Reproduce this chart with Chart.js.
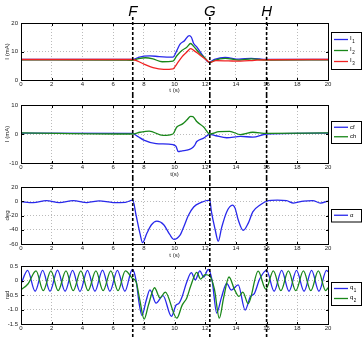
<!DOCTYPE html>
<html>
<head>
<meta charset="utf-8">
<script src="https://cdn.jsdelivr.net/npm/chart.js@4.4.1/dist/chart.umd.min.js"></script>
<style>
  html, body { margin: 0; padding: 0; background: #fff; overflow: hidden; width: 363px; height: 337px; }
  canvas { position: absolute; left: 0; }
</style>
</head>
<body>
<canvas id="c1" width="363" height="95" style="top:0px"></canvas>
<canvas id="c2" width="363" height="83" style="top:95px"></canvas>
<canvas id="c3" width="363" height="81" style="top:178px"></canvas>
<canvas id="c4" width="363" height="86" style="top:259px"></canvas>
<script>
// event markers
const markT = [7.28, 12.3, 16.0];
const markLabel = ['F', 'G', 'H'];

// panel 1: motor currents (mA)
const tI1 = [0, 7.25, 7.6, 8.0, 8.4, 9.0, 9.9, 10.15, 10.35, 10.65, 10.95, 11.1, 11.25, 11.45, 11.85, 12.25, 12.6, 13.3, 14.2, 15.0, 16.0, 20];
const vI1 = [7.2, 7.2, 7.8, 8.4, 8.5, 8.2, 8.0, 10.3, 12.5, 13.8, 15.6, 15.0, 12.8, 11.6, 8.5, 6.3, 7.2, 7.9, 7.3, 7.6, 7.2, 7.2];
const tI2 = [0, 6.5, 7.25, 7.6, 8.1, 8.6, 9.2, 9.9, 10.15, 10.5, 10.8, 11.05, 11.25, 11.6, 12.0, 12.3, 12.6, 13.3, 14.2, 15.0, 16.0, 20];
const vI2 = [7.1, 7.0, 6.9, 7.4, 7.8, 7.4, 6.4, 6.6, 8.5, 10.4, 11.5, 12.8, 11.8, 9.6, 7.6, 6.1, 6.9, 7.6, 7.0, 7.4, 7.0, 7.1];
const tI3 = [0, 7.25, 7.6, 8.0, 8.6, 9.3, 9.9, 10.15, 10.5, 10.8, 11.05, 11.25, 11.65, 12.0, 12.3, 12.7, 13.5, 14.3, 15.2, 16.0, 20];
const vI3 = [7.2, 7.2, 6.6, 5.6, 4.3, 3.7, 3.9, 5.6, 8.2, 9.8, 11.0, 10.4, 8.8, 7.4, 6.2, 6.8, 6.7, 6.6, 6.9, 7.1, 7.2];

// panel 2: cf / ch (mA)
const tCf = [0, 7.25, 7.6, 8.0, 8.8, 9.9, 10.1, 10.25, 10.5, 10.8, 11.1, 11.3, 11.45, 11.9, 12.3, 12.7, 13.4, 14.3, 15.1, 16.0, 20];
const vCf = [0.3, 0.2, -0.8, -2.1, -3.3, -3.7, -4.3, -6.1, -5.8, -5.6, -5.0, -4.0, -2.6, -1.4, -0.1, -0.6, -1.3, -0.8, -1.1, 0.0, 0.3];
const tCh = [0, 7.25, 7.75, 8.35, 9.25, 9.9, 10.15, 10.5, 10.8, 11.05, 11.2, 11.45, 11.9, 12.3, 12.9, 13.6, 14.3, 15.1, 16.0, 20];
const vCh = [0.4, 0.0, 0.6, 1.0, -0.5, 0.0, 2.4, 3.4, 4.8, 6.1, 6.0, 4.3, 2.4, 0.0, 0.8, 0.9, -0.2, 0.6, 0.2, 0.4];

// panel 3: alpha (deg)
const tA = [0, 0.8, 1.65, 2.5, 3.4, 4.3, 5.1, 6.0, 6.8, 7.28, 7.5, 7.75, 7.92, 8.2, 8.5, 8.85, 9.3, 9.7, 9.95, 10.35, 10.6, 10.9, 11.25, 11.7, 12.3, 12.4, 12.65, 12.85, 13.07, 13.4, 13.78, 13.95, 14.15, 14.48, 14.8, 15.1, 15.6, 16.0, 16.7, 17.3, 17.75, 18.4, 19.0, 19.5, 20];
const vA = [-0.6, -2, 1.0, -1.8, 1.0, -1.8, 0.5, -1.8, -1.5, 1.5, -20, -45, -58, -45, -33, -28, -33, -47, -53.5, -48, -36, -20, -8, -2, 1.5, -14, -40, -56, -37, -15, -5.5, -10, -26, -41, -31, -15, -5, 0, 1.5, 0.8, -2.5, 0.3, 1.0, -2.5, 0.3];

// panel 4: joint angles (rad)
const tQ1 = [0, 0.43, 0.92, 1.41, 1.89, 2.38, 2.87, 3.36, 3.84, 4.33, 4.82, 5.31, 5.79, 6.28, 6.77, 7.25, 7.5, 7.7, 7.88, 8.15, 8.4, 8.8, 9.25, 9.8, 10.1, 10.3, 10.5, 10.8, 11.1, 11.35, 11.65, 11.9, 12.2, 12.45, 12.75, 13.05, 13.4, 13.7, 14.15, 14.6, 14.95, 15.2, 15.55, 16.0, 16.49, 16.98, 17.46, 17.95, 18.44, 18.93, 19.41, 19.9, 20];
const vQ1 = [-0.12, 0.35, -0.37, 0.35, -0.37, 0.36, -0.37, 0.35, -0.38, 0.35, -0.37, 0.36, -0.37, 0.35, -0.37, 0.38, 0.0, -0.8, -1.2, -0.7, -0.32, -0.78, -0.52, -1.24, -0.85, -0.78, -0.55, -0.05, 0.27, 0.02, 0.33, 0.12, 0.38, 0.0, -1.12, -0.6, -0.1, -0.33, -0.15, -1.02, -0.55, -0.45, 0.05, 0.35, -0.37, 0.35, -0.37, 0.35, -0.37, 0.35, -0.37, 0.35, 0.3];
const tQ2 = [0, 0.45, 0.98, 1.45, 1.95, 2.42, 2.93, 3.4, 3.9, 4.37, 4.88, 5.35, 5.85, 6.32, 6.8, 7.25, 7.5, 7.75, 8.02, 8.3, 8.7, 9.05, 9.4, 10.15, 10.5, 10.8, 11.05, 11.45, 11.7, 12.0, 12.3, 12.6, 12.92, 13.2, 13.55, 13.9, 14.2, 14.45, 14.8, 15.45, 15.95, 16.44, 16.93, 17.42, 17.9, 18.4, 18.88, 19.37, 19.85, 20];
const vQ2 = [-0.32, -0.12, 0.33, -0.35, 0.33, -0.35, 0.33, -0.35, 0.33, -0.35, 0.33, -0.35, 0.33, -0.35, 0.33, 0.08, -0.05, -0.7, -1.33, -0.85, -0.25, -0.6, -0.4, -1.3, -0.85, -0.6, -0.2, 0.28, 0.05, 0.2, 0.15, -0.3, -1.3, -0.6, 0.12, -0.3, -0.55, -0.4, -0.8, 0.32, -0.3, 0.33, -0.35, 0.33, -0.35, 0.33, -0.35, 0.33, -0.35, -0.25];

const blue = 'rgb(40,40,235)', green = 'rgb(25,135,25)', red = 'rgb(240,35,35)';
const FONT = '"Liberation Sans", Arial, sans-serif';

function pts(ts, vs) {
  return ts.map((t, i) => ({ x: t, y: vs[i] }));
}

function line(label, ts, vs, color, order) {
  return { label, data: pts(ts, vs), borderColor: color, backgroundColor: color, order };
}

// axes box, inner ticks, event lines, boxed legend
const frame = {
  id: 'frame',
  afterDraw(chart, args, o) {
    const { ctx, chartArea: a, scales } = chart;
    const L = Math.round(a.left) + 0.5, T = Math.round(a.top) + 0.5;
    const R = Math.round(a.right) + 0.5, B = Math.round(a.bottom) + 0.5;
    ctx.save();
    ctx.strokeStyle = '#000';
    ctx.lineWidth = 1;
    ctx.strokeRect(L, T, R - L, B - T);

    ctx.beginPath();
    scales.x.ticks.forEach(tk => {
      const x = Math.round(scales.x.getPixelForValue(tk.value)) + 0.5;
      ctx.moveTo(x, B); ctx.lineTo(x, B - 2.5);
      ctx.moveTo(x, T); ctx.lineTo(x, T + 2.5);
    });
    scales.y.ticks.forEach(tk => {
      const y = Math.round(scales.y.getPixelForValue(tk.value)) + 0.5;
      ctx.moveTo(L, y); ctx.lineTo(L + 2.5, y);
      ctx.moveTo(R, y); ctx.lineTo(R - 2.5, y);
    });
    ctx.stroke();

    ctx.setLineDash([3, 2]);
    ctx.lineWidth = 1.6;
    ctx.fillStyle = '#000';
    markT.forEach((t, i) => {
      const x = scales.x.getPixelForValue(t);
      ctx.beginPath();
      ctx.moveTo(x, o.lineTop);
      ctx.lineTo(x, chart.height);
      ctx.stroke();
      if (o.letters) {
        ctx.font = 'italic 15px ' + FONT;
        ctx.textAlign = 'center';
        ctx.textBaseline = 'alphabetic';
        ctx.fillText(markLabel[i], x, 15.5);
      }
    });
    ctx.setLineDash([]);

    // legend box
    const ds = chart.data.datasets;
    const w = 30, h = ds.length * o.rowH + o.pad * 2;
    const x0 = Math.round(a.right) + 3;
    const y0 = Math.round((a.top + a.bottom) / 2 - h / 2 + o.shift);
    ctx.fillStyle = '#fff';
    ctx.fillRect(x0, y0, w, h);
    ctx.strokeStyle = '#000';
    ctx.lineWidth = 1;
    ctx.strokeRect(x0 + 0.5, y0 + 0.5, w, h);
    ds.forEach((d, i) => {
      const y = y0 + o.pad + o.rowH * (i + 0.5);
      ctx.strokeStyle = d.borderColor;
      ctx.lineWidth = 1.3;
      ctx.beginPath();
      ctx.moveTo(x0 + 3, y);
      ctx.lineTo(x0 + 17, y);
      ctx.stroke();
      const [main, sub] = d.label.split('_');
      ctx.fillStyle = '#000';
      ctx.textAlign = 'left';
      ctx.textBaseline = 'middle';
      ctx.font = '6px ' + FONT;
      ctx.fillText(main, x0 + 19, y - (sub ? 1 : 0));
      if (sub) {
        const mw = ctx.measureText(main).width;
        ctx.font = '4.5px ' + FONT;
        ctx.fillText(sub, x0 + 19 + mw + 0.5, y + 2);
      }
    });
    ctx.restore();
  }
};

function panel(id, datasets, y, o) {
  const tickFont = { family: FONT, size: 6 };
  return new Chart(document.getElementById(id), {
    type: 'line',
    data: { datasets },
    options: {
      responsive: false,
      animation: false,
      layout: { padding: { top: o.top, right: 35, left: 0, bottom: 0 } },
      elements: {
        point: { radius: 0 },
        line: { borderWidth: 1.3, cubicInterpolationMode: 'monotone' }
      },
      plugins: {
        legend: { display: false },
        tooltip: { enabled: false },
        frame: { lineTop: o.lineTop, letters: o.letters, rowH: o.rowH, pad: o.pad, shift: o.shift }
      },
      scales: {
        x: {
          type: 'linear', min: 0, max: 20,
          ticks: { stepSize: 2, padding: 1, font: tickFont, color: '#222', autoSkip: false, maxRotation: 0 },
          grid: { color: '#aaa', lineWidth: 0.8, drawTicks: false },
          border: { display: false, dash: [1, 2] },
          title: { display: true, text: o.xTitle, font: tickFont, color: '#222', padding: { top: 0, bottom: o.xTitlePad } },
          afterFit: s => { s.height = o.xh; }
        },
        y: {
          min: y.min, max: y.max,
          ticks: { stepSize: y.step, padding: 3, font: tickFont, color: '#222' },
          grid: { color: '#aaa', lineWidth: 0.8, drawTicks: false },
          border: { display: false, dash: [1, 2] },
          title: { display: true, text: y.title, font: tickFont, color: '#222', padding: { top: 3.5, bottom: 0 } },
          afterFit: s => { s.width = 21; }
        }
      }
    },
    plugins: [frame]
  });
}

panel('c1', [
  line('I_1', tI1, vI1, blue, 2),
  line('I_2', tI2, vI2, green, 1),
  line('I_3', tI3, vI3, red, 0)
], { min: 0, max: 20, step: 10, title: 'I (mA)' },
{ top: 23, xh: 15, xTitle: 't (s)', xTitlePad: 1, lineTop: 17, letters: true, rowH: 11, pad: 2, shift: -1 });

panel('c2', [
  line('cf', tCf, vCf, blue, 1),
  line('ch', tCh, vCh, green, 0)
], { min: -10, max: 10, step: 10, title: 'I (mA)' },
{ top: 10, xh: 15, xTitle: 't(s)', xTitlePad: 0, lineTop: 0, letters: false, rowH: 9.5, pad: 1.5, shift: -2.5 });

panel('c3', [
  line('\u03b1', tA, vA, blue, 0)
], { min: -60, max: 20, step: 20, title: 'deg' },
{ top: 9, xh: 15, xTitle: 't (s)', xTitlePad: 0, lineTop: 0, letters: false, rowH: 9.5, pad: 1.5, shift: 0 });

panel('c4', [
  line('q_1', tQ1, vQ1, blue, 1),
  line('q_2', tQ2, vQ2, green, 0)
], { min: -1.5, max: 0.5, step: 0.5, title: 'rad' },
{ top: 7, xh: 21, xTitle: 't (s)', xTitlePad: 2.5, lineTop: 0, letters: false, rowH: 10, pad: 1.5, shift: -1.5 });
</script>
</body>
</html>
